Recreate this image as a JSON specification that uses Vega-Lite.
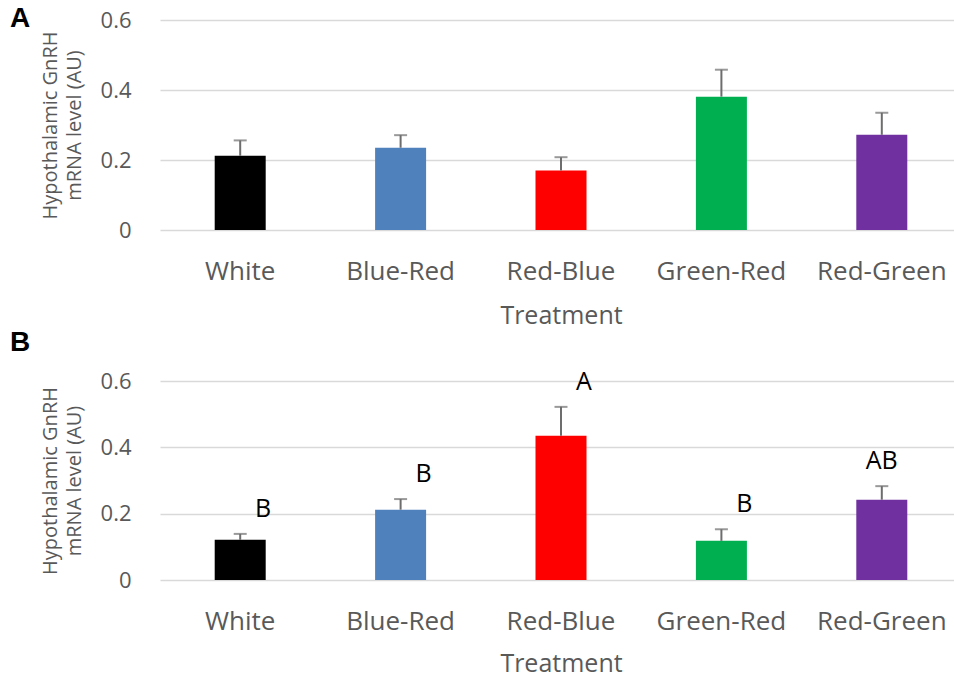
{
  "$schema": "https://vega.github.io/schema/vega-lite/v6.json",
  "padding": {"left": 10, "top": 5, "right": 0, "bottom": 0},
  "config": {
    "view": {"stroke": null},
    "font": "Open Sans",
    "concat": {"spacing": 0},
    "axisX": {"labelAngle": 0, "labelFontSize": 26, "labelColor": "#595959", "domain": false, "ticks": false, "labelPadding": 28, "titleFontSize": 25, "titleFontWeight": "normal", "titleColor": "#595959", "titlePadding": 19, "grid": false},
    "axisY": {"domain": false, "ticks": false, "grid": true, "gridColor": "#d9d9d9", "gridWidth": 1.5, "labelFontSize": 22, "labelColor": "#595959", "labelPadding": 29, "titleFontSize": 20, "titleFontWeight": "normal", "titleColor": "#595959", "titlePadding": 16, "titleLineHeight": 24}
  },
  "datasets": {
    "a": [
      {"treatment": "White", "mean": 0.212, "upper": 0.256},
      {"treatment": "Blue-Red", "mean": 0.235, "upper": 0.271},
      {"treatment": "Red-Blue", "mean": 0.170, "upper": 0.208},
      {"treatment": "Green-Red", "mean": 0.381, "upper": 0.458},
      {"treatment": "Red-Green", "mean": 0.272, "upper": 0.335}
    ],
    "b": [
      {"treatment": "White", "mean": 0.121, "upper": 0.139, "letter": "B"},
      {"treatment": "Blue-Red", "mean": 0.212, "upper": 0.244, "letter": "B"},
      {"treatment": "Red-Blue", "mean": 0.435, "upper": 0.522, "letter": "A"},
      {"treatment": "Green-Red", "mean": 0.118, "upper": 0.153, "letter": "B"},
      {"treatment": "Red-Green", "mean": 0.242, "upper": 0.283, "letter": "AB"}
    ]
  },
  "vconcat": [
    {
      "data": {"name": "a"},
      "width": 802,
      "height": 210,
      "title": {"text": "A", "anchor": "start", "frame": "bounds", "fontSize": 28, "font": "Liberation Sans", "fontWeight": "bold", "color": "black", "offset": -24, "dx": -30},
      "encoding": {
        "x": {"field": "treatment", "type": "nominal", "sort": null, "title": "Treatment", "scale": {"paddingInner": 0, "paddingOuter": 0}}
      },
      "layer": [
        {
          "mark": {"type": "bar", "size": 51},
          "encoding": {
            "y": {"field": "mean", "type": "quantitative", "scale": {"domain": [0, 0.6]}, "axis": {"values": [0, 0.2, 0.4, 0.6], "format": "~g", "title": ["Hypothalamic GnRH", "mRNA level (AU)"]}},
            "color": {"field": "treatment", "type": "nominal", "scale": {"domain": ["White", "Blue-Red", "Red-Blue", "Green-Red", "Red-Green"], "range": ["#000000", "#4f81bd", "#ff0000", "#00b050", "#7030a0"]}, "legend": null}
          }
        },
        {
          "mark": {"type": "rule", "color": "#6d6d6d", "strokeWidth": 2},
          "encoding": {"y": {"field": "mean", "type": "quantitative"}, "y2": {"field": "upper"}}
        },
        {
          "mark": {"type": "tick", "color": "#6d6d6d", "thickness": 2, "size": 13},
          "encoding": {"y": {"field": "upper", "type": "quantitative"}}
        }
      ]
    },
    {
      "data": {"name": "b"},
      "width": 802,
      "height": 199,
      "title": {"text": "B", "anchor": "start", "frame": "bounds", "fontSize": 28, "font": "Liberation Sans", "fontWeight": "bold", "color": "black", "offset": 13, "dx": -30},
      "encoding": {
        "x": {"field": "treatment", "type": "nominal", "sort": null, "title": "Treatment", "scale": {"paddingInner": 0, "paddingOuter": 0}, "axis": {"titlePadding": 17}}
      },
      "layer": [
        {
          "mark": {"type": "bar", "size": 51},
          "encoding": {
            "y": {"field": "mean", "type": "quantitative", "scale": {"domain": [0, 0.6]}, "axis": {"values": [0, 0.2, 0.4, 0.6], "format": "~g", "title": ["Hypothalamic GnRH", "mRNA level (AU)"]}},
            "color": {"field": "treatment", "type": "nominal", "scale": {"domain": ["White", "Blue-Red", "Red-Blue", "Green-Red", "Red-Green"], "range": ["#000000", "#4f81bd", "#ff0000", "#00b050", "#7030a0"]}, "legend": null}
          }
        },
        {
          "mark": {"type": "rule", "color": "#6d6d6d", "strokeWidth": 2},
          "encoding": {"y": {"field": "mean", "type": "quantitative"}, "y2": {"field": "upper"}}
        },
        {
          "mark": {"type": "tick", "color": "#6d6d6d", "thickness": 2, "size": 13},
          "encoding": {"y": {"field": "upper", "type": "quantitative"}}
        },
        {
          "transform": [{"filter": "datum.letter != 'AB'"}],
          "mark": {"type": "text", "dx": 23, "dy": -25, "fontSize": 25, "color": "black", "baseline": "middle"},
          "encoding": {"y": {"field": "upper", "type": "quantitative"}, "text": {"field": "letter"}}
        },
        {
          "transform": [{"filter": "datum.letter == 'AB'"}],
          "mark": {"type": "text", "dx": 0, "dy": -25, "fontSize": 25, "color": "black", "baseline": "middle"},
          "encoding": {"y": {"field": "upper", "type": "quantitative"}, "text": {"field": "letter"}}
        }
      ]
    }
  ]
}
